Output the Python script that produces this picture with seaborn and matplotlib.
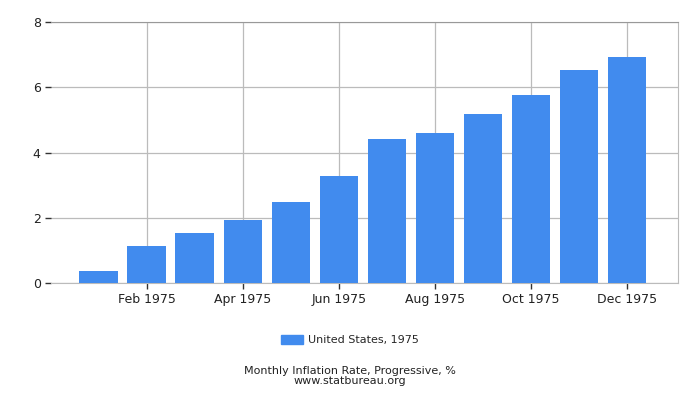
import matplotlib
matplotlib.use('Agg')
import matplotlib.pyplot as plt
import seaborn as sns
import pandas as pd
from matplotlib.patches import Patch

# Data
months = ['Jan 1975', 'Feb 1975', 'Mar 1975', 'Apr 1975', 'May 1975', 'Jun 1975',
          'Jul 1975', 'Aug 1975', 'Sep 1975', 'Oct 1975', 'Nov 1975', 'Dec 1975']
inflation = [0.38, 1.14, 1.54, 1.94, 2.49, 3.29, 4.42, 4.61, 5.19, 5.77, 6.54, 6.94]
series_label = 'United States, 1975'
bar_color = '#418bee'

df = pd.DataFrame({'month': months, 'value': inflation})

sns.set_style('white')
plt.rcParams['font.family'] = ['DejaVu Sans']

fig = plt.figure(figsize=(7, 4), dpi=100)
ax = fig.add_axes([0.073, 0.2925, 0.896, 0.6525])

sns.barplot(data=df, x='month', y='value', order=months, color=bar_color,
            width=0.8, saturation=1, linewidth=0, edgecolor='none', ax=ax, zorder=3)

ax.set_xlim(-0.99, 12.07)
ax.set_ylim(0, 8)
ax.set_yticks([0, 2, 4, 6, 8])

# only every other month labelled, like the original
ax.set_xticks(range(1, 12, 2))
ax.set_xticklabels([months[i] for i in range(1, 12, 2)])

ax.grid(True, color='#bbbbbb', linewidth=0.9, zorder=0)
ax.set_axisbelow(True)
for side in ['left', 'right', 'bottom']:
    ax.spines[side].set_color('#bbbbbb')
ax.spines['top'].set_color('#999999')
ax.spines['left'].set_visible(False)

ax.tick_params(axis='both', direction='out', length=4, width=1, color='#333333',
               labelsize=9, labelcolor='#222222', bottom=True, left=True)
ax.set_xlabel('')
ax.set_ylabel('')

fig.legend(handles=[Patch(color=bar_color, label=series_label)],
           loc='center', bbox_to_anchor=(0.5, 0.15), frameon=False,
           fontsize=8, handlelength=2.0, handleheight=0.9, handletextpad=0.4)

fig.text(0.5, 0.072, 'Monthly Inflation Rate, Progressive, %', ha='center', va='center',
         fontsize=8, color='#222222')
fig.text(0.5, 0.047, 'www.statbureau.org', ha='center', va='center',
         fontsize=8, color='#222222')

fig.savefig('out.png', dpi=100)
